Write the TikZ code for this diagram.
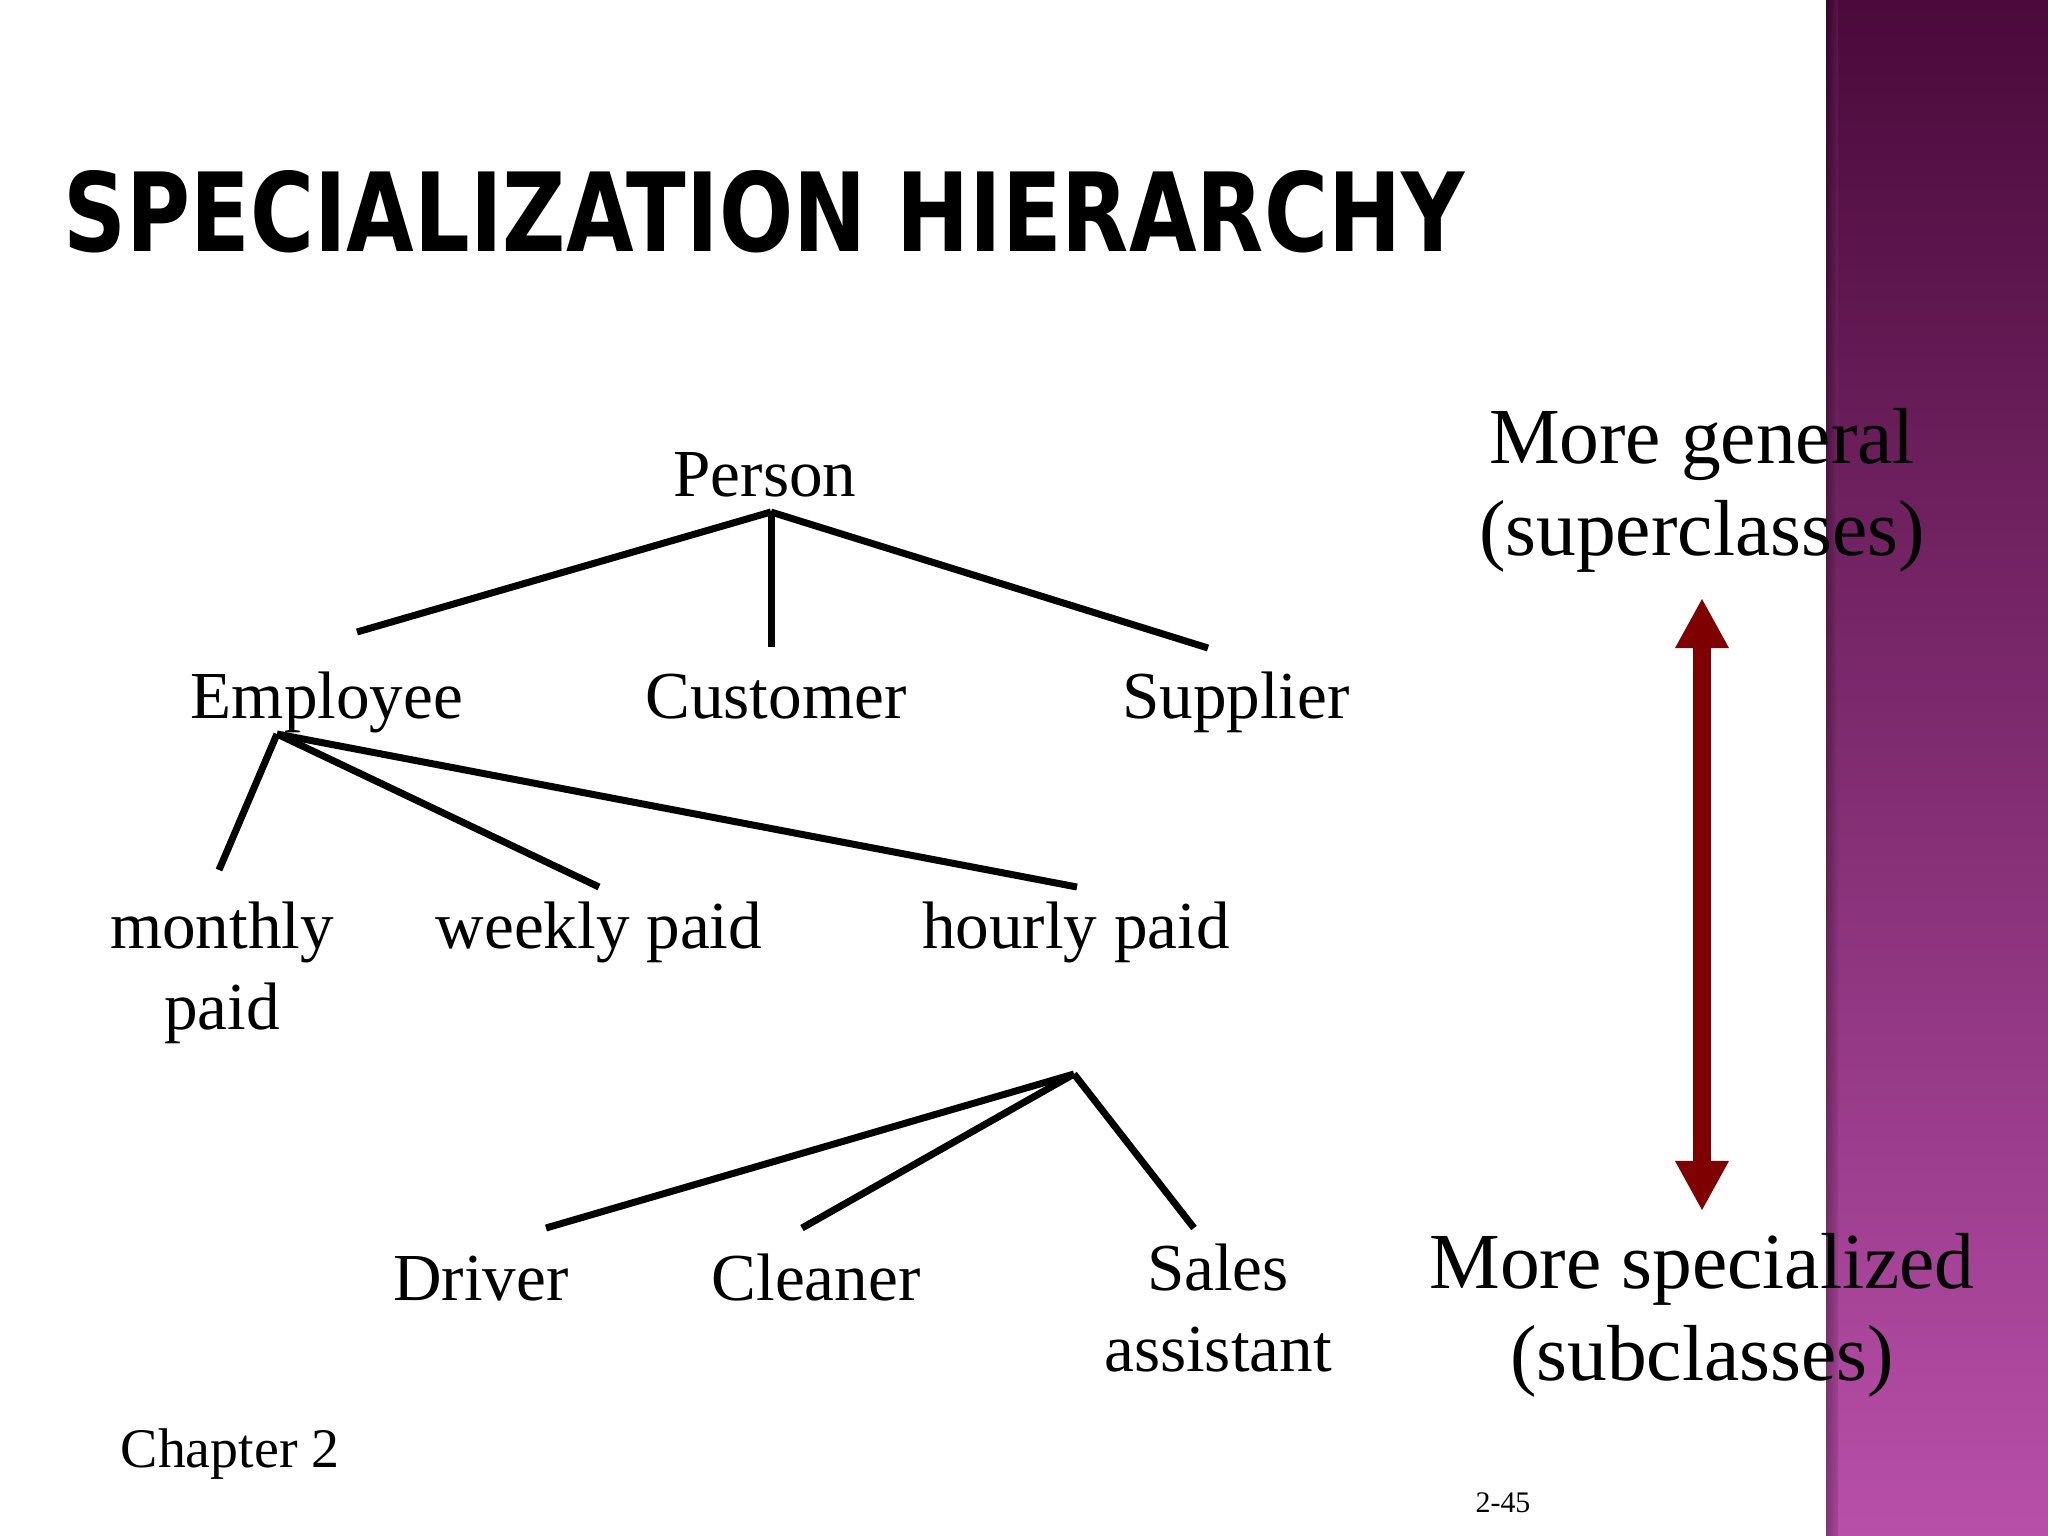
\documentclass[tikz,border=0pt]{standalone}
\usepackage{fontspec}
\setmainfont{Liberation Serif}
\newfontfamily\titlefont{DejaVu Sans}
\usetikzlibrary{arrows.meta}
\definecolor{arrowred}{HTML}{7F0000}
\definecolor{bandtop}{HTML}{4A0A3A}
\definecolor{bandmid}{HTML}{86307C}
\definecolor{bandbot}{HTML}{B84FA9}
\begin{document}
\begin{tikzpicture}[x=0.01cm,y=-0.01cm,
  lbl/.style={font=\fontsize{19.1}{23}\selectfont, inner sep=0pt, anchor=base, align=center},
  side/.style={font=\fontsize{22.6}{25.9}\selectfont, inner sep=0pt, anchor=base, align=center},
  link/.style={line width=0.07cm, black},
  bigarrow/.style={line width=0.18cm, arrowred, {Triangle[length=0.5cm,width=0.5cm]}-{Triangle[length=0.5cm,width=0.5cm]}}]
\useasboundingbox (0,0) rectangle (2048,1536);
\fill[white] (0,0) rectangle (2048,1536);
% purple band
\shade[top color=bandtop, middle color=bandmid, bottom color=bandbot] (1826,0) rectangle (2048,1536);
\shade[left color=black, right color=bandmid, opacity=0.3] (1826,0) rectangle (1838,1536);
% title
\node[anchor=base west, inner sep=0pt] (title) at (63,251)
  {\resizebox{14cm}{0.81cm}{\titlefont\bfseries SPECIALIZATION HIERARCHY}};
% nodes (multi-line nodes: base = baseline of last line)
\node[lbl] (person) at (765,496) {Person};
\node[lbl] (employee) at (327,718) {Employee};
\node[lbl] (customer) at (776,718) {Customer};
\node[lbl] (supplier) at (1236,718) {Supplier};
\node[lbl] (monthly) at (222,1029) {monthly\\paid};
\node[lbl] (weekly) at (599,948) {weekly paid};
\node[lbl] (hourly) at (1076,948) {hourly paid};
\node[lbl] (driver) at (481,1300) {Driver};
\node[lbl] (cleaner) at (816,1300) {Cleaner};
\node[lbl] (sales) at (1218,1371) {Sales\\assistant};
\node[side] (general) at (1702,555) {More general\\(superclasses)};
\node[side] (special) at (1702,1380) {More specialized\\(subclasses)};
\node[anchor=base west, inner sep=0pt, font=\fontsize{15.9}{19}\selectfont] (chapter) at (120,1467) {Chapter 2};
\node[anchor=base, inner sep=0pt, font=\fontsize{8.5}{10}\selectfont] (page) at (1503,1512) {2-45};
% junctions
\coordinate (pJ) at (771,512);
\coordinate (pE) at (357,632);
\coordinate (pC) at (771,647);
\coordinate (pS) at (1208,648);
\coordinate (eJ) at (277,734);
\coordinate (eM) at (219,870);
\coordinate (eW) at (599,887);
\coordinate (eH) at (1077,887);
\coordinate (hJ) at (1074,1074);
\coordinate (hD) at (546,1228);
\coordinate (hC) at (802,1228);
\coordinate (hS) at (1194,1228);
\draw[link] (pJ) -- (pE);
\draw[link] (pJ) -- (pC);
\draw[link] (pJ) -- (pS);
\draw[link] (eJ) -- (eM);
\draw[link] (eJ) -- (eW);
\draw[link] (eJ) -- (eH);
\draw[link] (hJ) -- (hD);
\draw[link] (hJ) -- (hC);
\draw[link] (hJ) -- (hS);
% arrow between the two side labels
\coordinate (aTop) at (1702,598);
\coordinate (aBot) at (1702,1211);
\draw[bigarrow] (aTop) -- (aBot);
\end{tikzpicture}
\end{document}
